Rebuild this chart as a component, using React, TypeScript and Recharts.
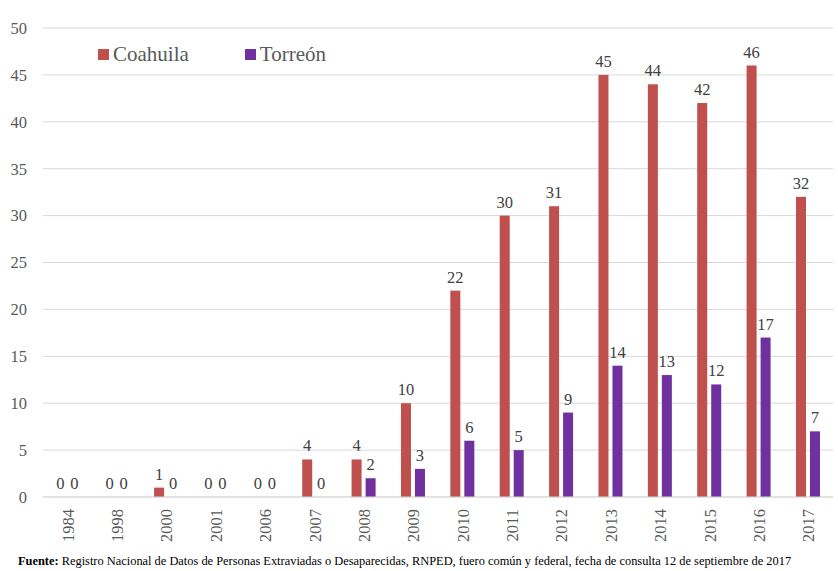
import { BarChart, Bar, XAxis, YAxis, CartesianGrid } from "recharts";

const years = ["1984", "1998", "2000", "2001", "2006", "2007", "2008", "2009", "2010", "2011", "2012", "2013", "2014", "2015", "2016", "2017"];
const coahuila = [0, 0, 1, 0, 0, 4, 4, 10, 22, 30, 31, 45, 44, 42, 46, 32];
const torreon = [0, 0, 0, 0, 0, 0, 2, 3, 6, 5, 9, 14, 13, 12, 17, 7];
const yTicks = [0, 5, 10, 15, 20, 25, 30, 35, 40, 45, 50];

const data = years.map((year, i) => ({ year, coahuila: coahuila[i], torreon: torreon[i] }));

const FONT = "'Times New Roman', 'Liberation Serif', serif";

const YearTick = ({ x, y, payload }: any) => (
  <text
    x={0}
    y={0}
    transform={`translate(${x + 6},${y + 4}) rotate(-90)`}
    textAnchor="end"
    fill="#595959"
    fontSize={16.5}
    fontFamily={FONT}
  >
    {payload.value}
  </text>
);

// bar plus its value on top; drawn also when the bar has no height
const BarWithValue = ({ x, y, width, height, fill, value }: any) => {
  const v = Array.isArray(value) ? value[1] - value[0] : value;
  return (
    <g>
      {height > 0 && <rect x={x} y={y} width={width} height={height} fill={fill} />}
      <text
        x={x + width / 2}
        y={y - 8}
        textAnchor="middle"
        fill="#404040"
        fontSize={16.5}
        fontFamily={FONT}
      >
        {v}
      </text>
    </g>
  );
};

export default function App() {
  return (
    <div style={{ position: "absolute", left: 0, top: 0, width: 838, height: 571, background: "#fff", fontFamily: FONT }}>
      <BarChart
        width={838}
        height={547}
        data={data}
        margin={{ top: 28, right: 5, bottom: 0, left: 0 }}
        barCategoryGap="25%"
        barGap={4}
      >
        <CartesianGrid vertical={false} stroke="#d9d9d9" />
        <XAxis
          dataKey="year"
          tick={<YearTick />}
          tickLine={false}
          axisLine={{ stroke: "#d9d9d9" }}
          height={50}
          interval={0}
        />
        <YAxis
          domain={[0, 50]}
          ticks={yTicks}
          width={43}
          tickLine={false}
          axisLine={false}
          tick={{ fill: "#595959", fontSize: 16.5, fontFamily: FONT }}
          tickMargin={10}
        />
        <Bar dataKey="coahuila" fill="#C0504D" isAnimationActive={false} shape={<BarWithValue />} />
        <Bar dataKey="torreon" fill="#7030A0" isAnimationActive={false} shape={<BarWithValue />} />
      </BarChart>
      <div style={{ position: "absolute", left: 98, top: 42, display: "flex", alignItems: "center", fontSize: 21, color: "#595959", fontFamily: FONT }}>
        <span style={{ width: 11, height: 11, background: "#C0504D", display: "inline-block", marginRight: 4 }} />
        <span style={{ marginRight: 56 }}>Coahuila</span>
        <span style={{ width: 11, height: 11, background: "#7030A0", display: "inline-block", marginRight: 4 }} />
        <span>Torreón</span>
      </div>
      <div style={{ position: "absolute", left: 18, top: 554, fontSize: 12.4, color: "#000", whiteSpace: "nowrap", fontFamily: FONT }}>
        <b>Fuente:</b> Registro Nacional de Datos de Personas Extraviadas o Desaparecidas, RNPED, fuero común y federal, fecha de consulta 12 de septiembre de 2017
      </div>
    </div>
  );
}
